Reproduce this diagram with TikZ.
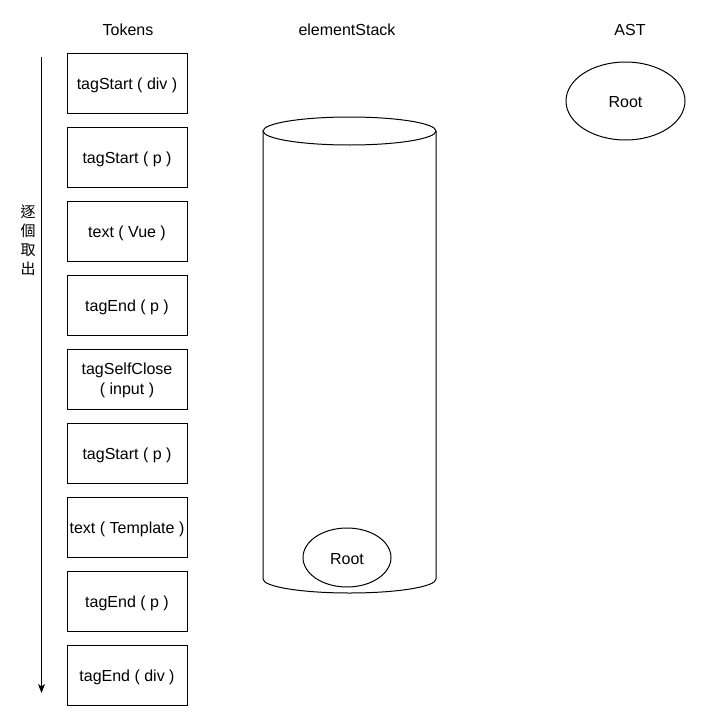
\documentclass[tikz,border=0pt]{standalone}
\usepackage{fontspec}
\setmainfont{Liberation Sans}
\newfontfamily\cjk{Noto Sans CJK TC}
\usetikzlibrary{arrows.meta,shapes.geometric}
\begin{document}
\begin{tikzpicture}[x=1pt,y=-1pt,
  every node/.style={font=\fontsize{16}{20}\selectfont},
  tok/.style={draw,line width=1pt,minimum width=120pt,minimum height=60pt,inner sep=0pt,align=center,text height=13.5pt,text depth=0pt},
  tok2/.style={draw,line width=1pt,minimum width=120pt,minimum height=60pt,inner sep=0pt,align=center,text depth=0pt},
  oval/.style={draw,line width=1pt,ellipse,inner sep=0pt,text height=13.5pt,text depth=0pt},
  title/.style={inner sep=0pt}]
\useasboundingbox (0,0) rectangle (712,728);
% titles
\node[title] (tTok) at (128,30) {Tokens};
\node[title] (tStack) at (347,30) {elementStack};
\node[title] (tAST) at (630,30) {AST};
% tokens
\node[tok] (k1) at (127,83) {tagStart ( div )};
\node[tok] (k2) at (127,157) {tagStart ( p )};
\node[tok] (k3) at (127,231) {text ( Vue )};
\node[tok] (k4) at (127,305) {tagEnd ( p )};
\node[tok2] (k5) at (127,379) {tagSelfClose\\( input )};
\node[tok] (k6) at (127,453) {tagStart ( p )};
\node[tok] (k7) at (127,527) {text ( Template )};
\node[tok] (k8) at (127,601) {tagEnd ( p )};
\node[tok] (k9) at (127,675) {tagEnd ( div )};
% arrow
\coordinate (aTop) at (41.5,57);
\coordinate (aBot) at (41.5,693);
\draw[line width=1pt,-{Stealth[length=9pt,width=7pt,inset=2.5pt]}] (aTop) -- (aBot);
\node[inner sep=0pt,align=center,font=\cjk\fontsize{15}{19}\selectfont] (lbl) at (28,240) {逐\\個\\取\\出};
% cylinder
\draw[line width=1pt] (263,131) -- (263,579) arc[start angle=180,end angle=0,x radius=86.5,y radius=14] -- (436,131);
\draw[line width=1pt] (349.5,131) ellipse[x radius=86.5,y radius=14];
\node[oval,minimum width=88pt,minimum height=59pt] (r1) at (347,557.5) {Root};
% AST root
\node[oval,minimum width=119pt,minimum height=78pt] (r2) at (625.5,101) {Root};
\end{tikzpicture}
\end{document}
